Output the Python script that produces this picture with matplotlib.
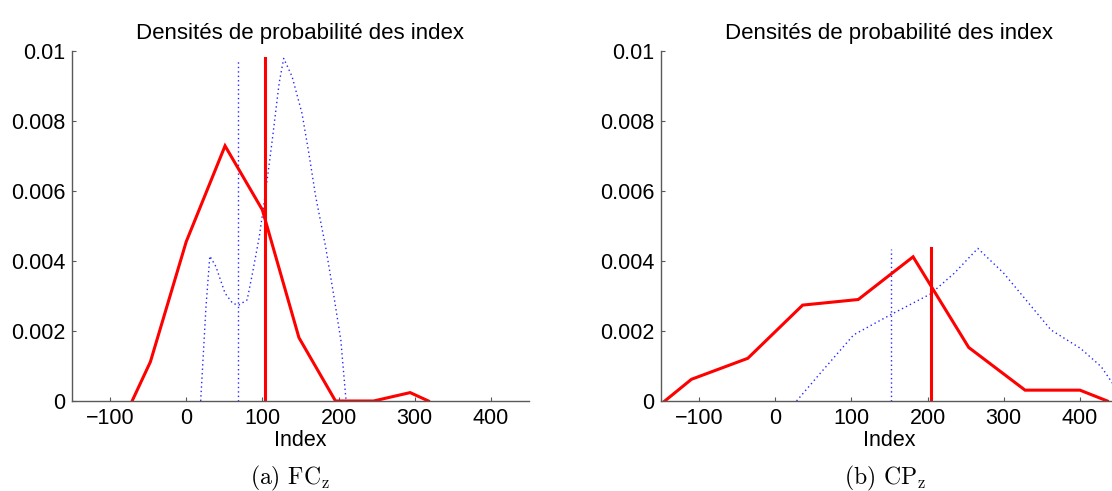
#!/usr/bin/env python3
# -*- coding: utf-8 -*-
"""
Densités de probabilité des index pour FC_z et CP_z :
densité empirique (rouge), densité lissée (bleu pointillé)
et les deux index de référence en traits verticaux.
"""

import matplotlib
matplotlib.use("Agg")
import matplotlib.pyplot as plt


# --- FC_z ---
fc_hist_x = [-71, -47, 0, 51, 100, 148, 196, 246, 294, 318]
fc_hist_y = [0.0, 0.00112, 0.00455, 0.00729, 0.00546, 0.00181, 0.0, 0.0, 0.00024, 0.0]
fc_kde_x = [19, 26, 31, 39, 51, 61, 69, 80, 87, 96, 104, 113, 122, 128,
            139, 152, 161, 170, 183, 194, 203, 209, 210]
fc_kde_y = [0.0, 0.0027, 0.00414, 0.00384, 0.00308, 0.00279, 0.00274, 0.00289,
            0.00365, 0.0047, 0.00593, 0.00746, 0.00908, 0.00979, 0.00927,
            0.00822, 0.00708, 0.00584, 0.00441, 0.00298, 0.00174, 0.00022, 0.0]
fc_ref_kde = 68.6      # index repère, densité lissée
fc_ref_hist = 104.0    # index repère, densité empirique
fc_ref_kde_h = 0.00974
fc_ref_hist_h = 0.00979

# --- CP_z ---
cp_hist_x = [-145, -110, -36, 36, 109, 181, 254, 328, 400, 436]
cp_hist_y = [0.0, 0.00062, 0.00122, 0.00274, 0.0029, 0.00412, 0.00153,
             0.00031, 0.00031, 0.0]
cp_kde_x = [28, 59, 103, 151, 204, 235, 266, 300, 362, 401, 428, 443]
cp_kde_y = [0.0, 0.00079, 0.00189, 0.00246, 0.00306, 0.00365, 0.00436,
            0.00365, 0.00203, 0.0015, 0.00098, 0.0005]
cp_ref_kde = 151.8
cp_ref_hist = 204.4
cp_ref_kde_h = 0.00434
cp_ref_hist_h = 0.00438

x_ticks = [-100, 0, 100, 200, 300, 400]
y_ticks = [0, 0.002, 0.004, 0.006, 0.008, 0.01]
y_tick_labels = ["0", "0.002", "0.004", "0.006", "0.008", "0.01"]

TITLE = "Densités de probabilité des index"
XLABEL = "Index"
FS = 15.5
AXIS_GREY = "0.35"


def draw_panel(ax, hist_x, hist_y, kde_x, kde_y,
               ref_kde, ref_kde_h, ref_hist, ref_hist_h):
    dots = (0, (1.0, 2.2))
    ax.plot(kde_x, kde_y, color="b", linestyle=dots, linewidth=1.0, alpha=0.85)
    ax.plot([ref_kde, ref_kde], [0, ref_kde_h], color="b", linestyle=dots,
            linewidth=1.0, alpha=0.85)
    ax.plot(hist_x, hist_y, color="r", linewidth=2.2, solid_joinstyle="miter")
    ax.plot([ref_hist, ref_hist], [0, ref_hist_h], color="r", linewidth=2.2)

    ax.set_xlim(-150, 450)
    ax.set_ylim(0, 0.01)
    ax.set_xticks(x_ticks)
    ax.set_yticks(y_ticks)
    ax.set_yticklabels(y_tick_labels)
    ax.tick_params(direction="in", length=3, width=0.8, color=AXIS_GREY,
                   labelsize=FS, pad=5)
    for side in ("top", "right"):
        ax.spines[side].set_visible(False)
    for side in ("left", "bottom"):
        ax.spines[side].set_color(AXIS_GREY)
        ax.spines[side].set_linewidth(1.0)
    ax.set_title(TITLE, fontsize=16, pad=9)
    ax.set_xlabel(XLABEL, fontsize=FS, labelpad=1)


def main():
    plt.rcParams["font.family"] = ["Liberation Sans", "DejaVu Sans"]
    plt.rcParams["mathtext.fontset"] = "cm"

    fig = plt.figure(figsize=(11.12, 4.91), dpi=100)
    ax1 = fig.add_axes([0.0647, 0.1833, 0.411, 0.7128])
    ax2 = fig.add_axes([0.5944, 0.1833, 0.411, 0.7128])

    draw_panel(ax1, fc_hist_x, fc_hist_y, fc_kde_x, fc_kde_y,
               fc_ref_kde, fc_ref_kde_h, fc_ref_hist, fc_ref_hist_h)
    draw_panel(ax2, cp_hist_x, cp_hist_y, cp_kde_x, cp_kde_y,
               cp_ref_kde, cp_ref_kde_h, cp_ref_hist, cp_ref_hist_h)

    fig.text(290 / 1112, 1 - 478 / 491, r"(a) FC$_\mathrm{z}$", family="cmr10",
             fontsize=17, ha="center", va="center")
    fig.text(885 / 1112, 1 - 478 / 491, r"(b) CP$_\mathrm{z}$", family="cmr10",
             fontsize=17, ha="center", va="center")

    fig.savefig("out.png", dpi=100)
    plt.close(fig)


if __name__ == "__main__":
    main()
